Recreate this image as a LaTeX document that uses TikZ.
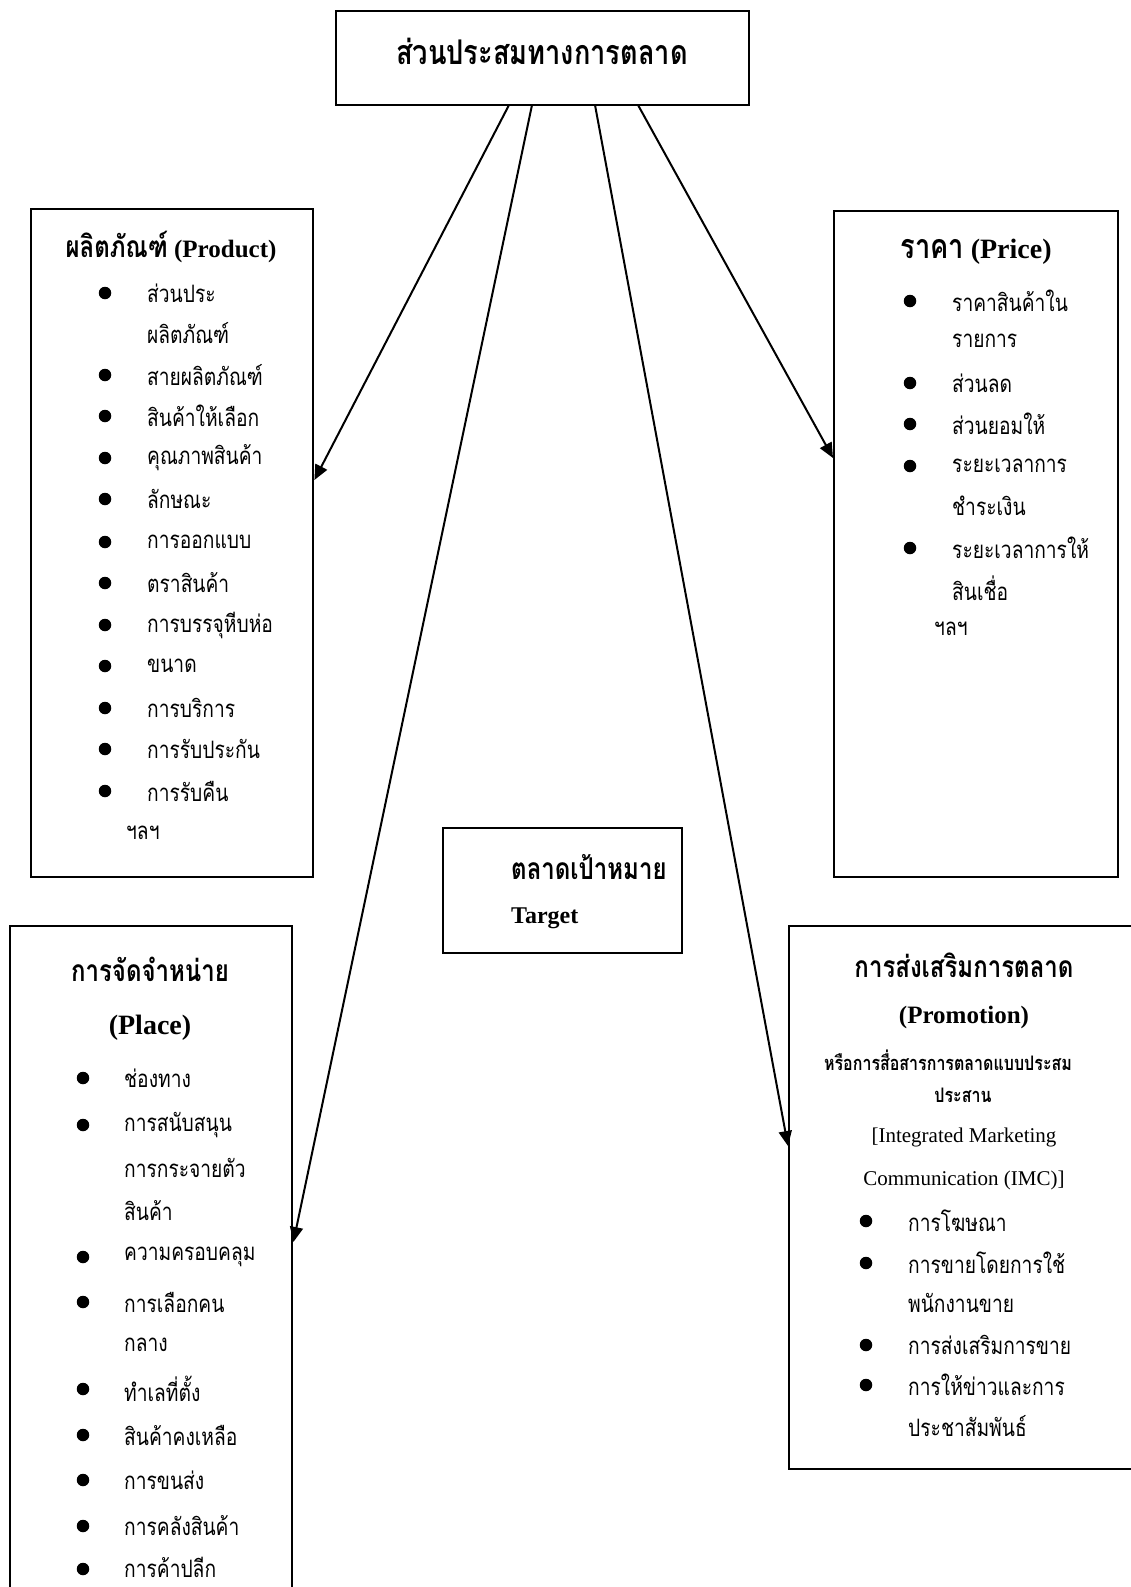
\documentclass[tikz,border=0pt]{standalone}
\usepackage{fontspec}
\setmainfont{Liberation Serif}
\newfontfamily\thaifont[Script=Thai,FakeStretch=0.8]{Loma}
\usetikzlibrary{arrows.meta}
\tikzset{
  box/.style={draw, line width=2.4pt, inner sep=0pt, anchor=north west},
  item/.style={font=\thaifont\fontsize{24}{26}\selectfont, inner sep=0pt, anchor=west},
  headth/.style={font=\thaifont\bfseries\fontsize{30}{32}\selectfont, inner sep=0pt},
  bul/.style={circle, fill, inner sep=0pt, minimum size=12.5pt},
  arr/.style={line width=2pt, -{Triangle[length=15pt,width=13pt]}},
}
\begin{document}
\begin{tikzpicture}[x=1pt,y=-1pt]
\useasboundingbox (0,0) rectangle (1131,1587);
% boxes
\node[box, minimum width=413pt, minimum height=94pt] (top) at (335,10) {};
\node[box, minimum width=282pt, minimum height=668pt] (prod) at (30,208) {};
\node[box, minimum width=284pt, minimum height=666pt] (price) at (833,210) {};
\node[box, minimum width=239pt, minimum height=125pt] (tgt) at (442,827) {};
\node[box, minimum width=282pt, minimum height=700pt] (place) at (9,925) {};
\node[box, minimum width=360pt, minimum height=543pt] (promo) at (788,925) {};
% titles
\node[headth, font=\thaifont\bfseries\fontsize{34}{36}\selectfont] (topT) at (542,51) {ส่วนประสมทางการตลาด};
\node[inner sep=0pt, font=\bfseries\fontsize{25}{27}\selectfont] (prodT) at (171,247) {{\thaifont\fontsize{30}{30}\selectfont ผลิตภัณฑ์} (Product)};
\node[inner sep=0pt, font=\bfseries\fontsize{28}{30}\selectfont] (priceT) at (976,252) {{\thaifont\fontsize{34}{34}\selectfont ราคา} (Price)};
\node[headth, anchor=west] (tgtT) at (511,867) {ตลาดเป้าหมาย};
\node[inner sep=0pt, anchor=west, font=\bfseries\fontsize{24}{26}\selectfont] (tgtE) at (511,918) {Target};
\node[headth] (placeT) at (150,969) {การจัดจำหน่าย};
\node[inner sep=0pt, font=\bfseries\fontsize{28}{30}\selectfont] (placeE) at (150,1028) {(Place)};
\node[headth] (promoT) at (964,965) {การส่งเสริมการตลาด};
\node[inner sep=0pt, font=\bfseries\fontsize{25}{27}\selectfont] (promoE) at (964,1017) {(Promotion)};
\node[inner sep=0pt, font=\thaifont\bfseries\fontsize{20}{22}\selectfont] (promoS1) at (948,1060) {หรือการสื่อสารการตลาดแบบประสม};
\node[inner sep=0pt, font=\thaifont\bfseries\fontsize{20}{22}\selectfont] (promoS2) at (963,1095) {ประสาน};
\node[inner sep=0pt, font=\fontsize{21}{23}\selectfont] (promoS3) at (964,1137) {[Integrated Marketing};
\node[inner sep=0pt, font=\fontsize{21}{23}\selectfont] (promoS4) at (964,1180) {Communication (IMC)]};
% product items
\foreach \yy/\txt [count=\i] in {293/ส่วนประ, 333/ผลิตภัณฑ์, 375/สายผลิตภัณฑ์, 416/สินค้าให้เลือก, 458/คุณภาพสินค้า, 499/ลักษณะ, 542/การออกแบบ, 583/ตราสินค้า, 625/การบรรจุหีบห่อ, 666/ขนาด, 708/การบริการ, 749/การรับประกัน, 791/การรับคืน}
  \node[item] (pt\i) at (147,\yy) {\txt};
\foreach \yy [count=\i] in {293,375,416,458,499,542,583,625,666,708,749,791}
  \node[bul] (pb\i) at (105,\yy) {};
\node[item] (petc) at (126,833) {ฯลฯ};
% price items
\foreach \yy/\txt [count=\i] in {301/ราคาสินค้าใน, 341/รายการ, 383/ส่วนลด, 424/ส่วนยอมให้, 466/ระยะเวลาการ, 506/ชำระเงิน, 548/ระยะเวลาการให้, 588/สินเชื่อ}
  \node[item] (rt\i) at (952,\yy) {\txt};
\foreach \yy [count=\i] in {301,383,424,466,548}
  \node[bul] (rb\i) at (910,\yy) {};
\node[item] (retc) at (934,629) {ฯลฯ};
% place items
\foreach \yy/\txt [count=\i] in {1078/ช่องทาง, 1125/การสนับสนุน, 1168/การกระจายตัว, 1211/สินค้า, 1257/ความครอบคลุม, 1302/การเลือกคน, 1345/กลาง, 1389/ทำเลที่ตั้ง, 1435/สินค้าคงเหลือ, 1480/การขนส่ง, 1526/การคลังสินค้า, 1567/การค้าปลีก}
  \node[item] (lt\i) at (124,\yy) {\txt};
\foreach \yy [count=\i] in {1078,1125,1257,1302,1389,1435,1480,1526,1569}
  \node[bul] (lb\i) at (83,\yy) {};
% promotion items
\foreach \yy/\txt [count=\i] in {1221/การโฆษณา, 1263/การขายโดยการใช้, 1303/พนักงานขาย, 1345/การส่งเสริมการขาย, 1385/การให้ข่าวและการ, 1426/ประชาสัมพันธ์}
  \node[item] (mt\i) at (908,\yy) {\txt};
\foreach \yy [count=\i] in {1221,1263,1345,1385}
  \node[bul] (mb\i) at (866,\yy) {};
% arrows
\coordinate (s1) at (509,105);
\coordinate (s2) at (532,105);
\coordinate (s3) at (595,105);
\coordinate (s4) at (638,105);
\coordinate (e1) at (0,480);
\coordinate (e2) at (0,1242);
\coordinate (e3) at (0,1146);
\coordinate (e4) at (0,458);
\draw[arr] (s1) -- (prod.east |- e1);
\draw[arr] (s2) -- (place.east |- e2);
\draw[arr] (s3) -- (promo.west |- e3);
\draw[arr] (s4) -- (price.west |- e4);
\end{tikzpicture}
\end{document}
